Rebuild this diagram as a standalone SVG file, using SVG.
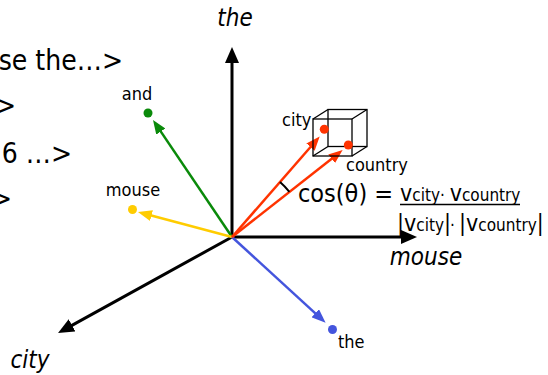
<svg xmlns="http://www.w3.org/2000/svg" width="548" height="375" viewBox="0 0 548 375">
<style>
  text { font-family: "DejaVu Sans Condensed", "DejaVu Sans", "Liberation Sans", sans-serif; fill: #000; }
  .big { font-size: 28px; }
  .cos { font-size: 25px; }
  .lbl { font-size: 18px; }
  .ax { font-size: 24px; font-style: italic; }
  .axis { stroke: #000; stroke-width: 3; fill: none; }
  .vec { stroke-width: 2.5; fill: none; }
  .v { font-size: 23px; }
  .sub { font-size: 17px; }
</style>
<defs>
  <marker id="hk" markerUnits="userSpaceOnUse" markerWidth="16" markerHeight="14" refX="10" refY="7" orient="auto">
    <path d="M0,0 L16,7 L0,14 z" fill="#000"/>
  </marker>
  <marker id="hg" markerUnits="userSpaceOnUse" markerWidth="14" markerHeight="11" refX="9" refY="5.5" orient="auto">
    <path d="M0,0 L14,5.5 L0,11 z" fill="#0a8a0a"/>
  </marker>
  <marker id="hy" markerUnits="userSpaceOnUse" markerWidth="14" markerHeight="11" refX="9" refY="5.5" orient="auto">
    <path d="M0,0 L14,5.5 L0,11 z" fill="#ffcc00"/>
  </marker>
  <marker id="hb" markerUnits="userSpaceOnUse" markerWidth="14" markerHeight="11" refX="9" refY="5.5" orient="auto">
    <path d="M0,0 L14,5.5 L0,11 z" fill="#4455dd"/>
  </marker>
  <marker id="hr" markerUnits="userSpaceOnUse" markerWidth="14" markerHeight="11" refX="9" refY="5.5" orient="auto">
    <path d="M0,0 L14,5.5 L0,11 z" fill="#ff3300"/>
  </marker>
</defs>

<g id="left-text">
  <text x="123" y="70" text-anchor="end" class="big">se the…&gt;</text>
  <text x="16" y="115" text-anchor="end" class="big">&gt;</text>
  <text x="72" y="163" text-anchor="end" class="big">6 …&gt;</text>
  <text x="12" y="208" text-anchor="end" class="big">&gt;</text>
</g>

<g id="connectors">
  <line class="axis" x1="232" y1="237" x2="232" y2="53" marker-end="url(#hk)"/>
  <line class="axis" x1="232" y1="237" x2="411" y2="237" marker-end="url(#hk)"/>
  <line class="axis" x1="232" y1="237" x2="63.3" y2="330.1" marker-end="url(#hk)"/>
  <line class="vec" stroke="#0a8a0a" x1="232" y1="237" x2="155.8" y2="124.1" marker-end="url(#hg)"/>
  <line class="vec" stroke="#ffcc00" x1="232" y1="237" x2="142.8" y2="213.3" marker-end="url(#hy)"/>
  <line class="vec" stroke="#4455dd" x1="232" y1="237" x2="321.9" y2="319.3" marker-end="url(#hb)"/>
  <line class="vec" stroke="#ff3300" x1="232" y1="237" x2="316.4" y2="140.3" marker-end="url(#hr)"/>
  <line class="vec" stroke="#ff3300" x1="232" y1="237" x2="338.7" y2="153.2" marker-end="url(#hr)"/>
  <path d="M280,182 A73,73 0 0 1 289.4,191.9" fill="none" stroke="#000" stroke-width="2"/>
</g>

<g id="axis-the"><text class="ax" x="235" y="26" text-anchor="middle">the</text></g>
<g id="axis-mouse"><text class="ax" x="426" y="265" text-anchor="middle">mouse</text></g>
<g id="axis-city"><text class="ax" x="30" y="368" text-anchor="middle">city</text></g>

<g id="node-and">
  <circle cx="148" cy="113" r="4.5" fill="#0a8a0a"/>
  <text class="lbl" x="137" y="100" text-anchor="middle">and</text>
</g>
<g id="node-mouse">
  <circle cx="132.5" cy="209.5" r="4.5" fill="#ffcc00"/>
  <text class="lbl" x="133" y="196" text-anchor="middle">mouse</text>
</g>
<g id="node-the">
  <circle cx="332.5" cy="329.5" r="4.5" fill="#4455dd"/>
  <text class="lbl" x="338" y="348">the</text>
</g>

<g id="cube" fill="none" stroke="#000" stroke-width="1.3">
  <rect x="313" y="119" width="39" height="37"/>
  <rect x="328" y="109.5" width="39" height="37"/>
  <line x1="313" y1="119" x2="328" y2="109.5"/>
  <line x1="352" y1="119" x2="367" y2="109.5"/>
  <line x1="352" y1="156" x2="367" y2="146.5"/>
  <line x1="313" y1="156" x2="328" y2="146.5"/>
</g>
<g id="node-city">
  <circle cx="324.3" cy="129.3" r="4.5" fill="#ff3300"/>
  <text class="lbl" x="282" y="126">city</text>
</g>
<g id="node-country">
  <circle cx="348.3" cy="145" r="4.5" fill="#ff3300"/>
  <text class="lbl" x="346" y="171">country</text>
</g>

<g id="formula">
  <text class="cos" x="298" y="202">cos(θ) =</text>
  <text x="400" y="201"><tspan class="v">v</tspan><tspan class="sub">city·</tspan><tspan class="sub"> </tspan><tspan class="v">v</tspan><tspan class="sub">country</tspan></text>
  <line x1="400" y1="204.5" x2="520" y2="204.5" stroke="#000" stroke-width="1.3"/>
  <text x="397" y="231"><tspan class="v">|</tspan><tspan class="v">v</tspan><tspan class="sub">city</tspan><tspan class="v" x="444">|</tspan><tspan class="sub" x="450">·</tspan><tspan class="v" x="459">|</tspan><tspan class="v">v</tspan><tspan class="sub">country</tspan><tspan class="v">|</tspan></text>
</g>
</svg>
